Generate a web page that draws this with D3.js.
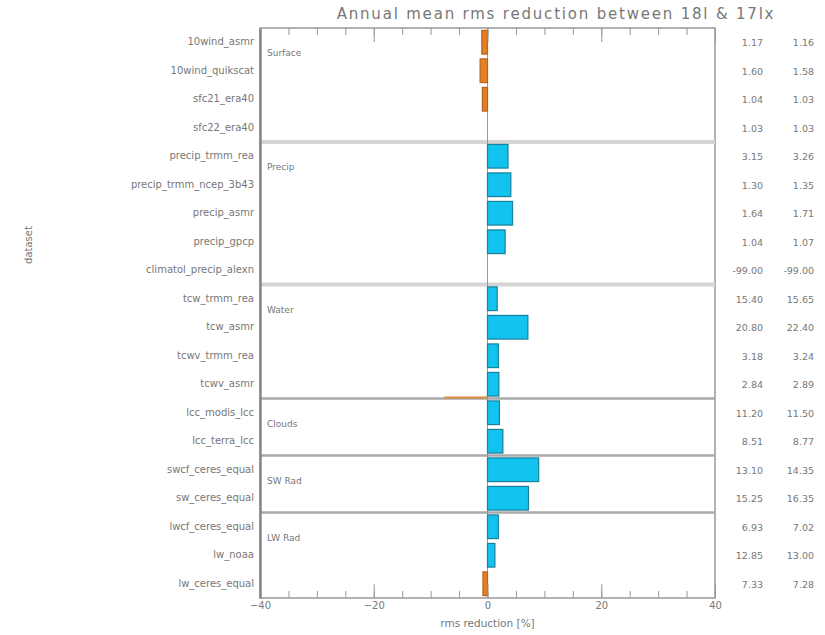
<!DOCTYPE html>
<html>
<head>
  <meta charset="utf-8" />
  <title>Annual mean rms reduction</title>
  <script src="https://d3js.org/d3.v7.min.js"></script>
  <style>
    body { margin: 0; background: #fff; }
    svg { display: block; }
    text { font-family: "DejaVu Sans", sans-serif; fill: #777; }
    .tick text { font-size: 10px; }
  </style>
</head>
<body>
<svg width="825" height="635"></svg>
<script>
  // dataset names, top to bottom
  const datasets = [
    "10wind_asmr", "10wind_quikscat", "sfc21_era40", "sfc22_era40",
    "precip_trmm_rea", "precip_trmm_ncep_3b43", "precip_asmr", "precip_gpcp", "climatol_precip_alexn",
    "tcw_trmm_rea", "tcw_asmr", "tcwv_trmm_rea", "tcwv_asmr",
    "lcc_modis_lcc", "lcc_terra_lcc",
    "swcf_ceres_equal", "sw_ceres_equal",
    "lwcf_ceres_equal", "lw_noaa", "lw_ceres_equal"
  ];
  // rms reduction [%]
  const reduction = [
    -1.0, -1.3, -0.9, 0,
    3.6, 4.1, 4.4, 3.1, 0,
    1.7, 7.1, 1.9, 2.0,
    2.1, 2.7,
    9.0, 7.2,
    1.9, 1.3, -0.8
  ];
  // rms of the two experiments
  const rmsNew = ["1.17", "1.60", "1.04", "1.03", "3.15", "1.30", "1.64", "1.04", "-99.00",
    "15.40", "20.80", "3.18", "2.84", "11.20", "8.51", "13.10", "15.25", "6.93", "12.85", "7.33"];
  const rmsOld = ["1.16", "1.58", "1.03", "1.03", "3.26", "1.35", "1.71", "1.07", "-99.00",
    "15.65", "22.40", "3.24", "2.89", "11.50", "8.77", "14.35", "16.35", "7.02", "13.00", "7.28"];
  // groups: name and first row
  const groups = ["Surface", "Precip", "Water", "Clouds", "SW Rad", "LW Rad"];
  const groupStart = [0, 4, 9, 13, 15, 17];
  // thin orange stroke at the bottom of tcwv_asmr
  const thinBars = [{ name: "tcwv_asmr", value: -7.6 }];
  const xTicks = [-40, -20, 0, 20, 40];

  const svg = d3.select("svg");
  const plotLeft = 260, plotRight = 715, plotTop = 28, plotBottom = 598;

  const x = d3.scaleLinear().domain([-40, 40]).range([plotLeft, plotRight]);
  const y = d3.scaleBand().domain(datasets).range([plotTop, plotBottom]).paddingInner(0.17).paddingOuter(0.085);
  const yRow = d3.scaleBand().domain(datasets).range([plotTop, plotBottom]);

  // frame
  svg.append("rect")
    .attr("x", plotLeft).attr("y", plotTop)
    .attr("width", plotRight - plotLeft).attr("height", plotBottom - plotTop)
    .attr("fill", "none").attr("stroke", "#999").attr("stroke-width", 1.5);

  // group separators
  groupStart.slice(1).forEach((s, i) => {
    const yy = yRow(datasets[s]);
    svg.append("line")
      .attr("x1", plotLeft).attr("x2", plotRight).attr("y1", yy).attr("y2", yy)
      .attr("stroke", i < 2 ? "#d4d4d4" : "#aaa")
      .attr("stroke-width", i < 2 ? 4 : 2.5);
  });

  // group labels
  svg.selectAll(".glabel").data(groups).join("text")
    .attr("class", "glabel")
    .attr("x", plotLeft + 7)
    .attr("y", (d, i) => yRow(datasets[groupStart[i]]) + 28)
    .attr("font-size", 9)
    .text(d => d);

  // zero line
  svg.append("line")
    .attr("x1", x(0)).attr("x2", x(0)).attr("y1", plotTop).attr("y2", plotBottom)
    .attr("stroke", "#999").attr("stroke-width", 1);

  // bars
  svg.selectAll(".bar").data(datasets).join("rect")
    .attr("class", "bar")
    .attr("x", (d, i) => x(Math.min(0, reduction[i])))
    .attr("y", d => y(d))
    .attr("width", (d, i) => Math.abs(x(reduction[i]) - x(0)))
    .attr("height", y.bandwidth())
    .attr("fill", (d, i) => reduction[i] < 0 ? "#e67e22" : "#12c3f0")
    .attr("stroke", (d, i) => reduction[i] < 0 ? "#b5651d" : "#1a7f99")
    .attr("stroke-width", 1.2)
    .attr("display", (d, i) => reduction[i] === 0 ? "none" : null);

  svg.selectAll(".thin").data(thinBars).join("line")
    .attr("class", "thin")
    .attr("x1", d => x(d.value)).attr("x2", x(0))
    .attr("y1", d => yRow(d.name) + yRow.bandwidth() - 1)
    .attr("y2", d => yRow(d.name) + yRow.bandwidth() - 1)
    .attr("stroke", "#d98a3a").attr("stroke-width", 2);

  // axes
  const minor = d3.range(-40, 41, 5);
  svg.append("g")
    .attr("transform", `translate(0,${plotBottom})`)
    .call(d3.axisBottom(x).tickValues(xTicks).tickSize(-14).tickPadding(4).tickFormat(d3.format("d")))
    .call(g => g.select(".domain").remove())
    .call(g => g.selectAll(".tick line").attr("stroke", "#999"))
    .call(g => g.selectAll(".tick text").attr("fill", "#888"));
  svg.append("g")
    .attr("transform", `translate(0,${plotBottom})`)
    .call(d3.axisBottom(x).tickValues(minor).tickSize(-7).tickFormat(""))
    .call(g => g.select(".domain").remove())
    .call(g => g.selectAll(".tick line").attr("stroke", "#999"));
  svg.append("g")
    .attr("transform", `translate(0,${plotTop})`)
    .call(d3.axisTop(x).tickValues(xTicks).tickSize(-14).tickFormat(""))
    .call(g => g.select(".domain").remove())
    .call(g => g.selectAll(".tick line").attr("stroke", "#999"));
  svg.append("g")
    .attr("transform", `translate(0,${plotTop})`)
    .call(d3.axisTop(x).tickValues(minor).tickSize(-7).tickFormat(""))
    .call(g => g.select(".domain").remove())
    .call(g => g.selectAll(".tick line").attr("stroke", "#999"));

  svg.append("g")
    .attr("transform", `translate(${plotLeft},0)`)
    .call(d3.axisLeft(yRow).tickSize(0).tickPadding(6))
    .call(g => g.select(".domain").attr("stroke", "#888").attr("stroke-width", 2.5))
    .call(g => g.selectAll(".tick text").attr("font-size", 9.5).attr("fill", "#777"));

  // rms columns
  svg.selectAll(".rms1").data(rmsNew).join("text")
    .attr("class", "rms1")
    .attr("x", 763).attr("y", (d, i) => yRow(datasets[i]) + yRow.bandwidth() / 2 + 4)
    .attr("text-anchor", "end").attr("font-size", 9.5)
    .text(d => d);
  svg.selectAll(".rms2").data(rmsOld).join("text")
    .attr("class", "rms2")
    .attr("x", 814).attr("y", (d, i) => yRow(datasets[i]) + yRow.bandwidth() / 2 + 4)
    .attr("text-anchor", "end").attr("font-size", 9.5)
    .text(d => d);

  // titles
  svg.append("text")
    .attr("x", 556).attr("y", 19)
    .attr("text-anchor", "middle").attr("font-size", 15)
    .attr("letter-spacing", 1.8)
    .attr("fill", "#888")
    .text("Annual mean rms reduction between  18l & 17lx");

  svg.append("text")
    .attr("x", x(0)).attr("y", 627)
    .attr("text-anchor", "middle").attr("font-size", 10.5)
    .attr("fill", "#888")
    .text("rms reduction [%]");

  svg.append("text")
    .attr("transform", "translate(32,245) rotate(-90)")
    .attr("text-anchor", "middle").attr("font-size", 10)
    .text("dataset");
</script>
</body>
</html>
